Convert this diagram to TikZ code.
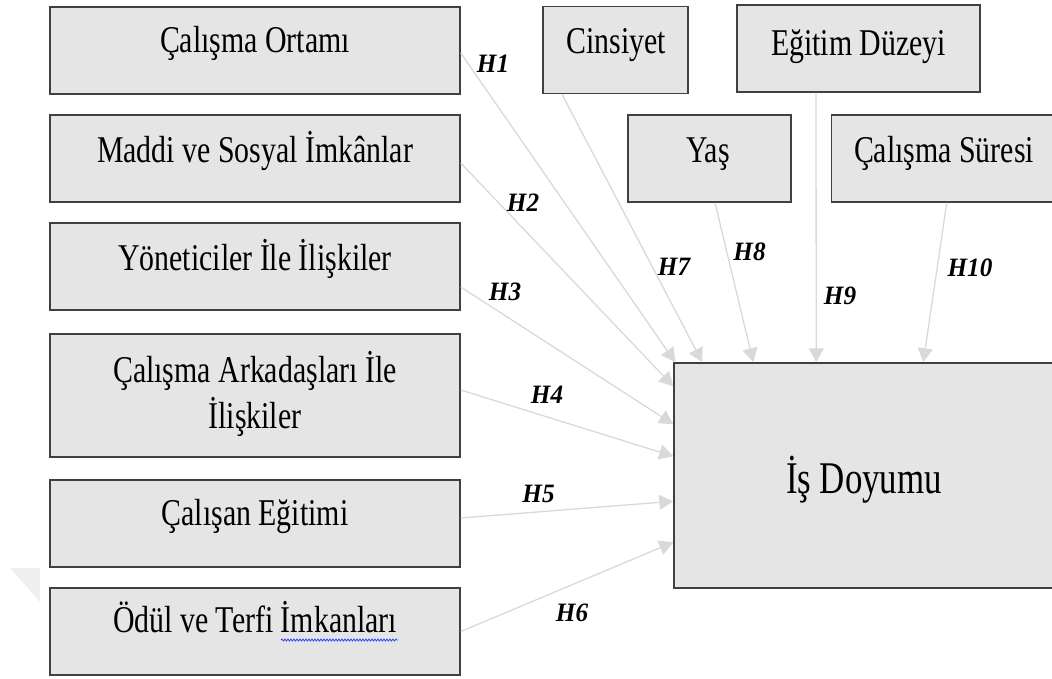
\documentclass[tikz,border=0pt]{standalone}
\usepackage{fontspec}
\setmainfont{Liberation Serif}[FakeStretch=0.79]
\newfontfamily\bigfont{Liberation Serif}[FakeStretch=0.77]
\newfontfamily\hypfont{Liberation Serif}[FakeStretch=0.95]
\usetikzlibrary{arrows.meta,calc,decorations.pathmorphing}
\definecolor{boxfill}{HTML}{E5E5E5}
\definecolor{boxline}{HTML}{404040}
\definecolor{arrowgray}{HTML}{D9D9D9}
\definecolor{markgray}{HTML}{EFEFEF}
\definecolor{spellblue}{HTML}{3040FF}
\tikzset{
  factor/.style={draw=boxline, fill=boxfill, line width=1.5pt, inner sep=0pt,
    minimum width=410pt, minimum height=87pt},
  boxtext/.style={anchor=base, inner sep=0pt, font=\fontsize{37.8}{46}\selectfont},
  hyp/.style={inner sep=0pt, font=\hypfont\fontsize{26.5}{30}\selectfont\bfseries\itshape},
  link/.style={draw=arrowgray, line width=1.3pt,
    -{Triangle[length=14pt,width=15pt,fill=arrowgray]}}
}
\begin{document}
\begin{tikzpicture}[x=1pt,y=-1pt]
\useasboundingbox (0,0) rectangle (1052,678);
\clip (0,0) rectangle (1052,678);

% faint corner mark on the left margin
\fill[markgray] (10,568) -- (40,568) -- (40,602) -- cycle;

% left column of factors
\node[factor] (b1) at (255,50.5) {};
\node[factor] (b2) at (255,158.5) {};
\node[factor] (b3) at (255,266.5) {};
\node[factor, minimum height=123pt] (b4) at (255,395.5) {};
\node[factor] (b5) at (255,523.5) {};
\node[factor] (b6) at (255,631.5) {};

\node[boxtext] (t1) at (255,52) {Çalışma Ortamı};
\node[boxtext] (t2) at (255,162) {Maddi ve Sosyal İmkânlar};
\node[boxtext] (t3) at (255,270) {Yöneticiler İle İlişkiler};
\node[boxtext] (t4a) at (255,382) {Çalışma Arkadaşları İle};
\node[boxtext] (t4b) at (255,428) {İlişkiler};
\node[boxtext] (t5) at (255,525) {Çalışan Eğitimi};
\node[boxtext] (t6) at (255,632) {Ödül ve Terfi İmkanları};

% spelling mark under the last word
\draw[spellblue, line width=0.8pt, decorate,
  decoration={snake, amplitude=1pt, segment length=3pt}] (281,640) -- (398,640);

% demographic factors on top
\node[factor, minimum width=145pt] (cins) at (615.5,50) {};
\node[factor, minimum width=243pt] (egit) at (858.5,48.5) {};
\node[factor, minimum width=163pt] (yas) at (709.5,158.5) {};
\node[factor, minimum width=229pt] (sure) at (946,158.5) {};

\node[boxtext] (tc) at (616,53) {Cinsiyet};
\node[boxtext] (te) at (858.5,55) {Eğitim Düzeyi};
\node[boxtext] (ty) at (708,162) {Yaş};
\node[boxtext] (ts) at (944,162) {Çalışma Süresi};

% outcome
\node[factor, minimum width=390pt, minimum height=225pt] (isd) at (869,475.5) {};
\node[anchor=base, inner sep=0pt, font=\bigfont\fontsize{45.3}{50}\selectfont] (ti) at (864,493) {İş Doyumu};

% hypothesis links
\draw[link] ([yshift=-2.5pt]b1.east) -- ($(isd.north west)+(2,0)$);
\draw[link] ([yshift=-4.5pt]b2.east) -- ($(isd.north west)+(0,24)$);
\draw[link] ([yshift=-20.5pt]b3.east) -- ($(isd.north west)+(0,62)$);
\draw[link] ([yshift=5.5pt]b4.east) -- ($(isd.north west)+(0,94)$);
\draw[link] ([yshift=5.5pt]b5.east) -- ($(isd.north west)+(0,139)$);
\draw[link] (b6.east) -- ($(isd.north west)+(0,180)$);
\draw[link] ([xshift=-53.5pt]cins.south) -- ($(isd.north west)+(29,0)$);
\draw[link] ([xshift=5.5pt]yas.south) -- ($(isd.north west)+(80,0)$);
\draw[link] ([xshift=-42.5pt]egit.south) -- ($(isd.north west)+(143,0)$);
\draw[link] ($(sure.south west)+(116,0)$) -- ($(isd.north west)+(250,0)$);

% hypothesis labels
\node[hyp] (h1) at (493,64) {H1};
\node[hyp] (h2) at (523,203) {H2};
\node[hyp] (h3) at (505,292) {H3};
\node[hyp] (h4) at (547,395) {H4};
\node[hyp] (h5) at (538.5,494) {H5};
\node[hyp] (h6) at (572,613) {H6};
\node[hyp] (h7) at (674,267) {H7};
\node[hyp] (h8) at (749.5,252) {H8};
\node[hyp] (h9) at (840,296) {H9};
\node[hyp] (h10) at (970,268) {H10};
\end{tikzpicture}
\end{document}
